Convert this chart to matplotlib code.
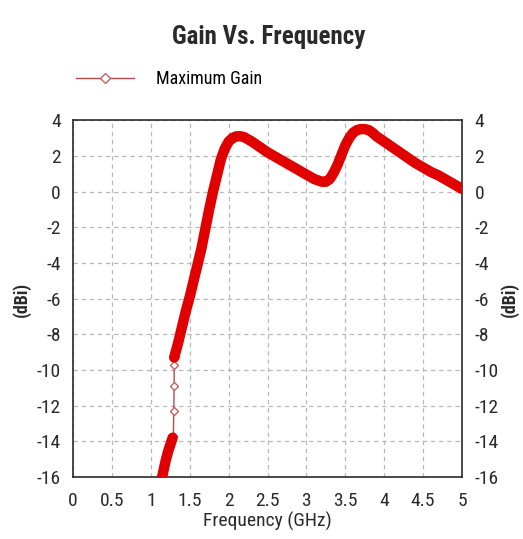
import matplotlib
matplotlib.use("Agg")
import matplotlib.pyplot as plt
from matplotlib.lines import Line2D

plt.rcParams['font.family'] = ['Roboto Condensed', 'Liberation Sans', 'DejaVu Sans']
plt.rcParams['axes.unicode_minus'] = False

# gain curve (GHz, dBi)
low_freq = [1.13, 1.16, 1.19, 1.22, 1.25, 1.28]
low_gain = [-16.3, -15.7, -15.1, -14.6, -14.2, -13.8]

gap_freq = [1.29, 1.295, 1.30, 1.30, 1.305]
gap_gain = [-13.7, -12.3, -10.9, -9.7, -9.3]

high_freq = [1.30, 1.35, 1.40, 1.45, 1.50, 1.55, 1.60, 1.65, 1.70, 1.75,
             1.80, 1.85, 1.90, 1.95, 2.00, 2.05, 2.10, 2.15, 2.20, 2.30,
             2.40, 2.50, 2.60, 2.70, 2.80, 2.90, 3.00, 3.10, 3.20, 3.25,
             3.30, 3.35, 3.40, 3.45, 3.50, 3.55, 3.60, 3.65, 3.70, 3.75,
             3.80, 3.85, 3.90, 4.00, 4.10, 4.20, 4.30, 4.40, 4.50, 4.60,
             4.70, 4.80, 4.90, 5.00]
high_gain = [-9.3, -8.5, -7.6, -6.7, -5.9, -5.0, -4.1, -3.2, -2.1, -1.0,
             0.0, 0.9, 1.8, 2.4, 2.8, 3.0, 3.1, 3.1, 3.05, 2.8,
             2.5, 2.2, 1.95, 1.7, 1.45, 1.2, 0.95, 0.7, 0.55, 0.55,
             0.7, 1.05, 1.5, 2.05, 2.6, 3.0, 3.3, 3.45, 3.5, 3.5,
             3.45, 3.3, 3.1, 2.8, 2.5, 2.2, 1.9, 1.6, 1.35, 1.1,
             0.9, 0.65, 0.4, 0.15]

x_ticks = [0, 0.5, 1, 1.5, 2, 2.5, 3, 3.5, 4, 4.5, 5]
x_tick_labels = ["0", "0.5", "1", "1.5", "2", "2.5", "3", "3.5", "4", "4.5", "5"]
y_ticks = list(range(-16, 5, 2))

fig = plt.figure(figsize=(5.23, 5.39), dpi=100)
ax = fig.add_axes([0.1396, 0.115, 0.7438, 0.662])

red = "#e00000"
thin = "#b84848"
txt = "#2a2a2a"

# sparse part: thin line with open diamonds
ax.plot(gap_freq, gap_gain, color=thin, lw=1, marker="D", markersize=4,
        markerfacecolor="white", markeredgecolor="#c86060", zorder=3)
# dense parts look like a thick red band
ax.plot(low_freq, low_gain, color=red, lw=7.5, solid_capstyle="round", zorder=4)
ax.plot(high_freq, high_gain, color=red, lw=7.5, solid_capstyle="round",
        solid_joinstyle="round", zorder=4)

ax.set_xlim(0, 5)
ax.set_ylim(-16, 4)
ax.set_xticks(x_ticks)
ax.set_xticklabels(x_tick_labels)
ax.set_yticks(y_ticks)
ax.grid(True, linestyle=(0, (3.5, 3)), color="#b8b8b8", lw=0.9)
ax.tick_params(length=0, labelsize=14, colors=txt, pad=9)
ax.tick_params(axis="x", pad=11)
ax.tick_params(labelright=True)
for s in ax.spines.values():
    s.set_color(txt)
    s.set_linewidth(1.2)

ax.set_xlabel("Frequency (GHz)", fontsize=14, color=txt, labelpad=1)
fig.text(0.042, 0.445, "(dBi)", rotation=90, fontsize=13, fontweight="bold",
         color=txt, ha="center", va="center")
fig.text(0.975, 0.445, "(dBi)", rotation=90, fontsize=13, fontweight="bold",
         color=txt, ha="center", va="center")

fig.text(0.513, 0.932, "Gain Vs. Frequency", fontsize=18, fontweight="bold",
         color=txt, ha="center", va="center")

handle = Line2D([], [], color=thin, lw=1, marker="D", markersize=5,
                markerfacecolor="white", markeredgecolor="#c86060")
fig.legend([handle], ["Maximum Gain"], loc="center left",
           bbox_to_anchor=(0.115, 0.853), frameon=False, fontsize=13,
           handlelength=3.2, handletextpad=1.2)

fig.savefig("out.png", dpi=100)
